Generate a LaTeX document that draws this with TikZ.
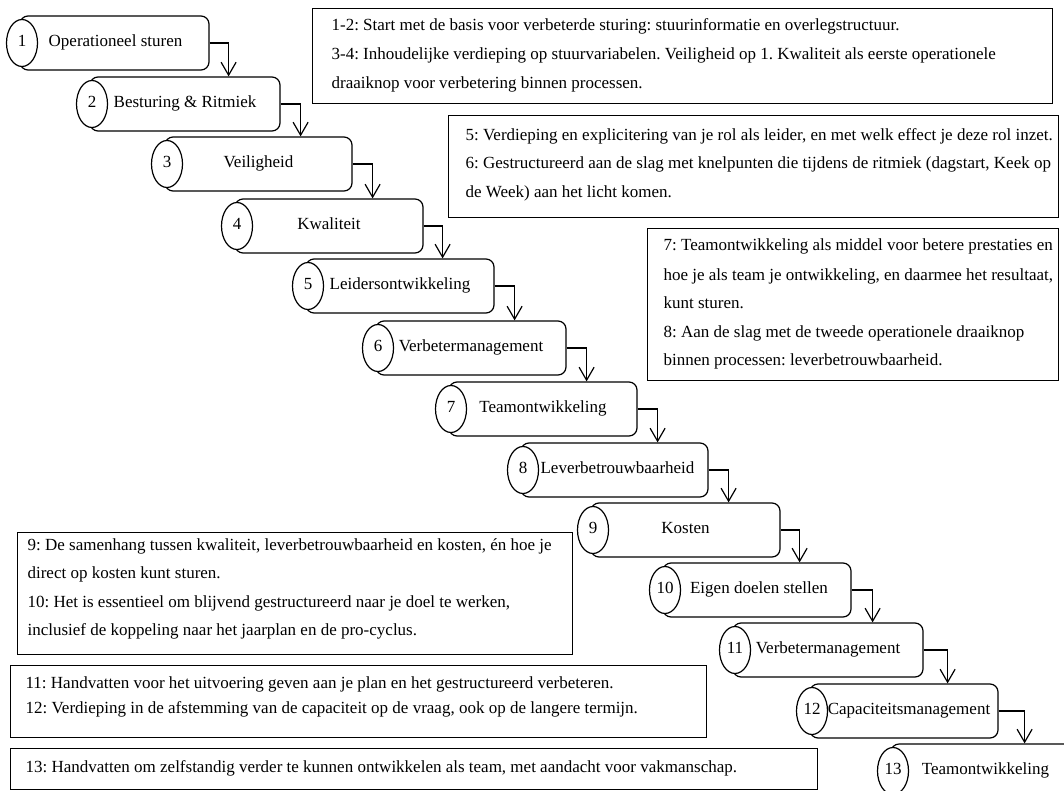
\documentclass[tikz,border=0pt]{standalone}
\usepackage{fontspec}
\setmainfont{Liberation Serif}
\usetikzlibrary{arrows.meta,shapes.geometric,calc}
\begin{document}
\frenchspacing
\begin{tikzpicture}[x=1pt,y=-1pt, line width=1.2pt,
  font=\fontsize{17}{20}\selectfont,
  stepbox/.style={draw, rounded corners=8pt, minimum height=54pt, inner sep=0pt},
  steplabel/.style={inner sep=0pt, text height=11.5pt, text depth=5pt},
  numbox/.style={draw, fill=white, ellipse, minimum width=31pt, minimum height=47pt,
    inner sep=0pt, text height=11.5pt, text depth=5pt},
  conn/.style={-{Straight Barb[length=13pt,width=15pt]}},
  note/.style={draw, inner sep=0pt, anchor=north west},
  tl/.style={anchor=base west, inner sep=0pt}]
\useasboundingbox (0,0) rectangle (1064,791);
\clip (0,0) rectangle (1064,791);

% steps
\foreach \n/\cx/\t/\r/\dx/\lab in {
  1/22/16/209/1/Operationeel sturen,
  2/92/77/280/0/Besturing \& Ritmiek,
  3/167/137/352/0/Veiligheid,
  4/237/199/423/0/Kwaliteit,
  5/308/259/494/0/Leidersontwikkeling,
  6/378/321/566/0/Verbetermanagement,
  7/451/382/637/0/Teamontwikkeling,
  8/523/443/708/3/Leverbetrouwbaarheid,
  9/593/503/780/0/Kosten,
  10/665/563/851/2/Eigen doelen stellen,
  11/735/623/923/0/Verbetermanagement,
  12/812/684/998/5/Capaciteitsmanagement,
  13/893/744/1080/0/Teamontwikkeling}{
  \pgfmathsetmacro\w{\r-\cx+2}
  \pgfmathsetmacro\mx{(\r+\cx-2)/2}
  \pgfmathsetmacro\lx{(\r+\cx-2)/2+\dx}
  \pgfmathsetmacro\my{\t+27}
  \node[stepbox, minimum width=\w pt] (s\n) at (\mx,\my) {};
  \node[numbox] (c\n) at (\cx,\my) {\n};
  \node[steplabel] (l\n) at (\lx,\my) {\lab};
}

% connectors
\foreach \a/\b/\d in {1/2/19,2/3/20,3/4/20,4/5/19,5/6/20,6/7/20,7/8/20,8/9/20,9/10/19,10/11/21,11/12/24,12/13/26}{
  \draw[conn] (s\a.east) -| ([xshift=\d pt]s\a.east |- s\b.north);
}

% note boxes
\node[note, minimum width=740pt, minimum height=95pt] (boxA) at (312,8) {};
\node[tl] (a1) at (331,31) {1-2: Start met de basis voor verbeterde sturing: stuurinformatie en overlegstructuur.};
\node[tl] (a2) at (331,60) {3-4: Inhoudelijke verdieping op stuurvariabelen. Veiligheid op 1. Kwaliteit als eerste operationele};
\node[tl] (a3) at (331,89) {draaiknop voor verbetering binnen processen.};

\node[note, minimum width=610pt, minimum height=102pt] (boxB) at (448,115) {};
\node[tl] (b1) at (465,141) {5: Verdieping en explicitering van je rol als leider, en met welk effect je deze rol inzet.};
\node[tl] (b2) at (465,169) {6: Gestructureerd aan de slag met knelpunten die tijdens de ritmiek (dagstart, Keek op};
\node[tl] (b3) at (465,198) {de Week) aan het licht komen.};

\node[note, minimum width=411pt, minimum height=152pt] (boxC) at (647,228) {};
\begin{scope}
\clip (647,228) rectangle (1058,368);
\node[tl] (c1l) at (663,251) {7: Teamontwikkeling als middel voor betere prestaties en};
\node[tl] (c2l) at (663,280) {hoe je als team je ontwikkeling, en daarmee het resultaat,};
\node[tl] (c3l) at (663,308) {kunt sturen.};
\node[tl] (c4l) at (663,337) {8: Aan de slag met de tweede operationele draaiknop};
\node[tl] (c5l) at (663,365) {binnen processen: leverbetrouwbaarheid.};
\end{scope}

\node[note, minimum width=555pt, minimum height=122pt] (boxD) at (17,532) {};
\begin{scope}
\clip (17,532) rectangle (572,639);
\node[tl] (d1) at (27,550) {9: De samenhang tussen kwaliteit, leverbetrouwbaarheid en kosten, én hoe je};
\node[tl] (d2) at (27,578.5) {direct op kosten kunt sturen.};
\node[tl] (d3) at (27,607.5) {10: Het is essentieel om blijvend gestructureerd naar je doel te werken,};
\node[tl] (d4) at (27,635.5) {inclusief de koppeling naar het jaarplan en de pro-cyclus.};
\end{scope}

\node[note, minimum width=696pt, minimum height=72pt] (boxE) at (10,665) {};
\node[tl] (e1) at (25,688.5) {11: Handvatten voor het uitvoering geven aan je plan en het gestructureerd verbeteren.};
\node[tl] (e2) at (25,713.5) {12: Verdieping in de afstemming van de capaciteit op de vraag, ook op de langere termijn.};

\node[note, minimum width=807pt, minimum height=41pt] (boxF) at (10,748) {};
\node[tl] (f1) at (25,772.5) {13: Handvatten om zelfstandig verder te kunnen ontwikkelen als team, met aandacht voor vakmanschap.};
\end{tikzpicture}
\end{document}
